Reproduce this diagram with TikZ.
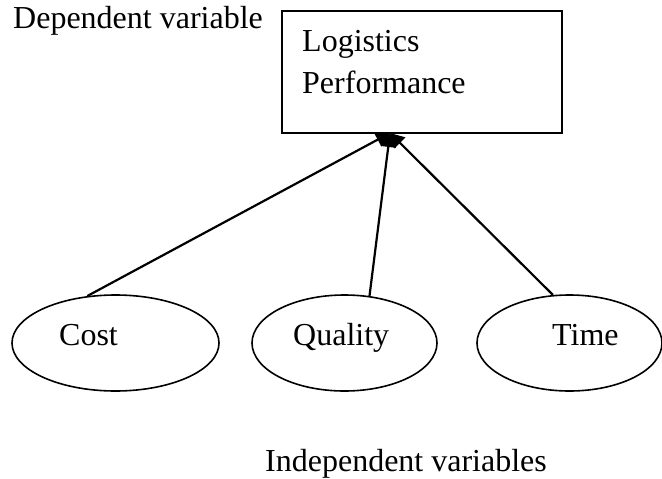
\documentclass[tikz,border=0pt]{standalone}
\usepackage{fontspec}
\setmainfont{Liberation Serif}
\usetikzlibrary{arrows.meta,shapes.geometric}
\begin{document}
\begin{tikzpicture}[x=1pt,y=-1pt,
  txt/.style={font=\fontsize{32}{42}\selectfont, inner sep=0pt, anchor=base west},
  oval/.style={draw, ellipse, line width=1.6pt, minimum width=207pt, minimum height=96pt, inner sep=0pt},
  dvbox/.style={draw, rectangle, line width=1.8pt, minimum width=280pt, minimum height=122pt, inner sep=0pt},
  conn/.style={line width=2.2pt, -{Triangle[length=14pt,width=15pt]}}]
\useasboundingbox (0,0) rectangle (662,479);
% dependent
\node[dvbox] (box) at (422,72) {};
\node[txt] (t1) at (302,51) {Logistics};
\node[txt] (t2) at (302,93) {Performance};
\node[txt] (dep) at (13,28) {Dependent variable};
% independent
\node[oval] (cost) at (115.5,343) {};
\node[oval, minimum width=185pt] (qual) at (344.5,343) {};
\node[oval, minimum width=185pt] (time) at (569.5,343) {};
\node[txt] (ct) at (59,345) {Cost};
\node[txt] (qt) at (293,345) {Quality};
\node[txt] (tt) at (552,345) {Time};
\node[txt] (ind) at (265,471) {Independent variables};
% connectors
\coordinate (tip) at (390,133);
\draw[conn] (cost.121.8) -- (tip);
\draw[conn] (qual.62.5) -- (tip);
\draw[conn] (time.109.3) -- (tip);
\end{tikzpicture}
\end{document}
